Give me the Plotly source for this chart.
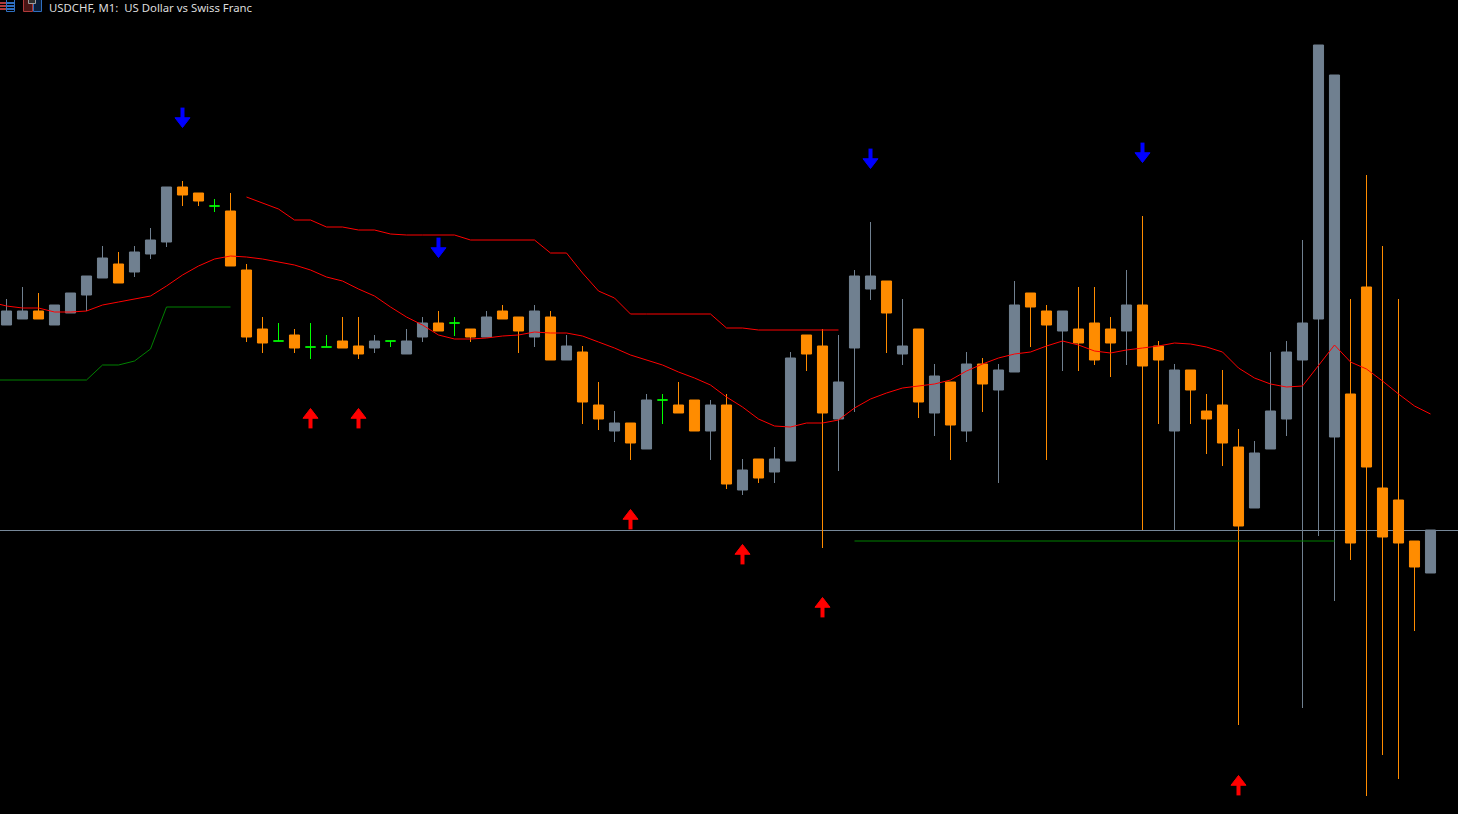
import plotly.graph_objects as go

# Levels; the (unlabelled) price axis runs top to bottom.
opens = [325,319,311,325,313,295,278,264,272,254,242,187,193,206,211,270,329,341,335,347,347,341,346,348,341,354,337,323,323,329,
         337,311,317,337,317,360,352,405,431,423,449,400,405,400,431,405,490,459,472,461,335,346,419,348,289,281,354,329,413,382,
         431,364,390,372,293,311,331,329,323,329,331,305,346,431,370,411,405,447,508,449,419,360,319,437,394,287,488,500,541,573]
closes = [311,311,319,305,293,276,258,283,252,240,187,195,201,206,266,337,343,341,348,347,347,348,354,341,341,341,323,331,323,337,
          317,319,331,311,360,346,402,419,423,443,400,400,413,431,405,484,470,478,459,358,354,413,382,276,276,313,346,402,376,425,
          364,384,370,305,307,325,311,343,360,343,305,366,360,370,390,419,443,526,453,411,352,323,45,75,543,467,537,543,567,530]
highs = [299,287,293,305,293,276,246,252,246,228,187,181,193,199,193,264,317,323,329,323,335,317,317,335,341,329,317,311,317,329,
         311,305,317,305,311,335,346,382,411,423,394,394,382,400,400,394,459,459,447,352,335,329,335,270,222,281,299,329,364,382,
         352,358,364,281,293,305,311,287,287,317,270,216,341,364,370,394,370,429,441,352,341,240,45,75,299,175,246,299,541,530]
lows = [325,319,319,325,313,311,278,283,277,259,247,206,206,212,266,342,353,341,353,359,347,348,359,353,347,354,342,331,336,342,
        337,319,353,347,360,360,424,430,442,460,449,424,413,431,460,489,495,483,483,461,371,548,471,412,300,353,365,418,436,460,
        442,412,483,372,347,460,371,371,365,377,365,530,424,530,424,454,466,725,508,449,436,708,536,601,560,796,755,779,631,573]

ma_x = list(range(-1, 90))
ma_mid = [302,306,308,308,312,312,311,305,302,299,296,286,275,266,259,256,257,259,262,265,270,277,281,289,296,307,317,325,335,339,339,
          338,336,335,332,333,333,336,342,348,355,360,365,372,378,385,397,407,419,426,427,423,423,420,408,399,393,388,386,384,380,
          371,364,358,354,352,346,341,345,351,353,350,348,346,343,344,347,352,368,378,384,387,386,365,345,362,369,381,394,406,414]

upper_x = list(range(15, 53))
upper = [197,203,209,220,220,227,227,230,230,234,235,235,235,235,240,240,240,240,240,253,253,273,291,298,314,314,314,314,314,314,
         328,328,330,330,330,330,330,330]

lower_a_x = list(range(-1, 15))
lower_a = [380,380,380,380,380,380,380,365,365,361,349,307,307,307,307,307]
lower_b_x = [53, 83]
lower_b = [541, 541]

current_price = 530.5

up_x = [19, 22, 39, 46, 51, 77]
up_y = [417, 417, 518, 553, 606, 784]
down_x = [11, 27, 54, 71]
down_y = [119, 249, 160, 154]

title_text = "USDCHF, M1:\u00a0\u00a0US Dollar vs Swiss Franc"

SLATE = "#708090"
ORANGE = "#FF8C00"
W, H = 1458, 814

idx = range(len(opens))
body = [i for i in idx if opens[i] != closes[i]]
doji = [i for i in idx if opens[i] == closes[i]]


def pick(values, which):
    return [values[i] for i in which]


fig = go.Figure()
fig.add_hline(y=current_price, line=dict(color="#778899", width=1), layer="below")

fig.add_trace(go.Candlestick(
    x=body, open=pick(opens, body), high=pick(highs, body), low=pick(lows, body), close=pick(closes, body),
    increasing=dict(line=dict(color=ORANGE, width=1), fillcolor=ORANGE),
    decreasing=dict(line=dict(color=SLATE, width=1), fillcolor=SLATE),
    whiskerwidth=0, showlegend=False))
fig.add_trace(go.Candlestick(
    x=doji, open=pick(opens, doji), high=pick(highs, doji), low=pick(lows, doji), close=pick(closes, doji),
    increasing=dict(line=dict(color="#00FF00", width=1), fillcolor="#00FF00"),
    decreasing=dict(line=dict(color="#00FF00", width=1), fillcolor="#00FF00"),
    whiskerwidth=0, showlegend=False))

for xs, ys, col in [(lower_a_x, lower_a, "#008000"), (lower_b_x, lower_b, "#008000"),
                    (upper_x, upper, "#FF0000"), (ma_x, ma_mid, "#FF0000")]:
    fig.add_trace(go.Scatter(x=xs, y=ys, mode="lines", line=dict(color=col, width=1), showlegend=False))


def arrow(xs, ys, col, head_angle, stem_angle):
    # each signal arrow: a triangular head and a thick stem, pushed apart around the signal level
    fig.add_trace(go.Scatter(x=xs, y=ys, mode="markers", showlegend=False,
                             marker=dict(symbol="line-ns", size=12, angle=stem_angle, standoff=3,
                                         line=dict(color=col, width=4), color=col)))
    fig.add_trace(go.Scatter(x=xs, y=ys, mode="markers", showlegend=False,
                             marker=dict(symbol="triangle-down", size=13, angle=head_angle, standoff=2,
                                         line=dict(width=1, color=col), color=col)))


arrow(up_x, up_y, "#FF0000", 180, 0)
arrow(down_x, down_y, "#0000FF", 0, 180)


def px_rect(x0, y0, x1, y1, line, fill="rgba(0,0,0,0)"):
    fig.add_shape(type="rect", xref="paper", yref="paper", x0=x0 / W, x1=x1 / W, y0=1 - y0 / H, y1=1 - y1 / H,
                  line=dict(color=line, width=1), fillcolor=fill, layer="above")


# toolbar icons cropped by the top edge
for row in (2.5, 5.5, 8.5):
    px_rect(-2, row, 6.5, row + 1, "#b03a3a", "#b03a3a")
    px_rect(6.5, row, 14, row + 1, "#2f6fc0", "#2f6fc0")
px_rect(6.5, -2, 14.5, 11.5, "#2f6fc0")
px_rect(23.5, -2, 32.5, 11.5, "#b03a3a", "#4a1515")
px_rect(33.5, -2, 41.5, 11.5, "#2f6fc0", "#0b1f3a")
px_rect(28.5, -2, 35.5, 3.5, "#a0a0a0", "#303030")

fig.add_annotation(text=title_text, xref="paper", yref="paper", x=49 / W, y=1 - 8 / H, xanchor="left", yanchor="middle",
                   showarrow=False, xshift=-2, font=dict(family="Noto Sans", size=11.35, color="#dcdcdc"))

fig.update_layout(
    width=W, height=H, margin=dict(l=0, r=0, t=0, b=0), paper_bgcolor="#000000", plot_bgcolor="#000000",
    boxgap=0.1, showlegend=False,
    xaxis=dict(range=[-0.40625, 90.71875], visible=False, rangeslider=dict(visible=False), fixedrange=True),
    yaxis=dict(range=[814, 0], visible=False, fixedrange=True),
)
fig.write_html("out.html", config=dict(displayModeBar=False), include_plotlyjs=True,
               post_script="document.documentElement.style.cssText='margin:0;padding:0;overflow:hidden;background:#000';"
                           "document.body.style.cssText='margin:0;padding:0;overflow:hidden;background:#000';",
               full_html=True, default_width=W, default_height=H)
